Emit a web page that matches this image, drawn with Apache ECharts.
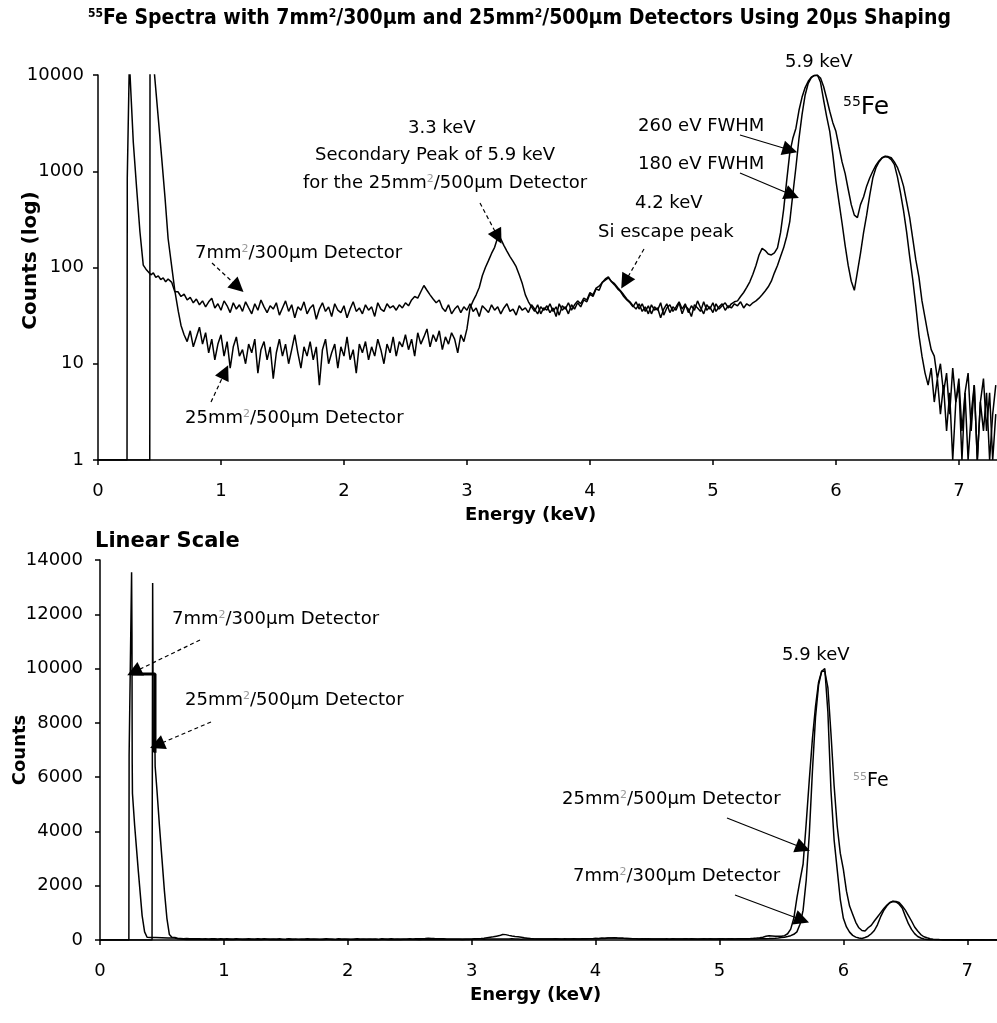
<!DOCTYPE html>
<html>
<head>
    <meta charset="UTF-8">
    <title>55Fe spectra</title>
    <script src="https://cdn.jsdelivr.net/npm/echarts@6/dist/echarts.min.js"></script>
</head>
<body style="margin:0;background:#fff;">
<div id="chart" style="width:997px;height:1023px;"></div>
<script type="text/javascript">
    // channel spacing of the spectra (keV)
    var channelStep = 0.025;

    // 7mm2/300um detector, counts per channel starting at 0.65 keV
    var counts7 = [
        56, 50, 53, 46, 49, 43, 47, 41, 45, 39, 44, 48, 38, 42, 36, 45, 40, 34, 43, 37,
        41, 35, 44, 38, 33, 42, 36, 46, 39, 34, 40, 37, 43, 32, 38, 45, 35, 41, 30, 39,
        36, 44, 33, 38, 41, 29, 37, 43, 35, 39, 31, 42, 36, 34, 40, 30, 37, 44, 35, 38,
        33, 41, 36, 39, 31, 43, 37, 35, 42, 38, 40, 36, 41, 38, 43, 40, 46, 50, 48, 56,
        65, 58, 52, 47, 43, 46, 38, 35, 41, 33, 37, 40, 34, 39, 36, 42, 35, 38, 31, 40,
        37, 34, 41, 36, 39, 33, 38, 42, 35, 37, 32, 40, 36, 38, 34, 41, 37, 33, 39, 36,
        40, 34, 38, 31, 42, 36, 39, 33, 41, 37, 43, 39, 46, 44, 53, 50, 60, 58, 70, 76,
        80, 71, 66, 60, 56, 50, 46, 43, 39, 44, 37, 42, 35, 40, 33, 39, 36, 43, 32, 38,
        41, 35, 39, 44, 37, 42, 34, 40, 36, 45, 38, 33, 41, 37, 43, 35, 39, 42, 36, 40,
        38, 42,
        40, 44, 38, 42, 40, 43, 45, 48, 52, 57, 63, 72, 88, 105, 130, 160, 210, 300, 580, 1100,
        2200, 3900, 6200, 8200, 9400, 9900, 10000, 8400, 5500, 3700, 2600, 1500, 800, 480, 290, 170, 105, 72, 58, 90,
        140, 230, 350, 560, 850, 1080, 1250, 1370, 1420, 1400, 1320, 1180, 880, 600, 390, 235, 130, 75, 40, 20,
        12, 8, 6, 9, 4, 7, 3, 6, 2, 5, 0, 4, 7, 2, 5, 0, 3, 6, 0, 4,
        2, 5, 0, 3, 6
    ];

    // 25mm2/500um detector, counts per channel starting at 0.70 keV
    var counts25 = [
        20, 17, 22, 15, 19, 24, 16, 21, 13, 18, 11, 16, 20, 12, 17, 9, 15, 19, 12, 14,
        10, 16, 13, 18, 8, 14, 17, 11, 15, 7, 13, 18, 12, 16, 10, 14, 20, 13, 9, 15,
        12, 17, 11, 15, 6, 14, 18, 10, 13, 16, 9, 15, 12, 19, 11, 14, 8, 16, 13, 17,
        11, 15, 12, 18, 14, 10, 16, 13, 19, 12, 17, 15, 20, 14, 18, 12, 21, 16, 19, 23,
        15, 20, 17, 22, 14, 19, 16, 21, 18, 13, 20, 17, 23, 38, 45, 52, 62, 82, 100, 118,
        140, 162, 205, 198, 170, 148, 130, 116, 102, 84, 68, 52, 44, 39, 35, 41, 33, 38, 36, 42,
        35, 39, 32, 40, 37, 43, 36, 41, 45, 42, 48, 46, 55, 52, 61, 64, 70, 74, 78, 72,
        68, 62, 57, 52, 47, 44, 40, 37, 42, 35, 39, 33, 41, 36, 38, 30, 37, 42, 34, 39,
        36, 43, 33, 40, 37, 31, 41, 38, 35, 44, 36, 39, 34, 42, 37, 40, 43, 38, 42, 44,
        45, 50, 55, 62, 71, 85, 105, 135, 158, 150, 138, 135, 142, 160, 230, 400, 800, 1550, 2200, 2800,
        4300, 5900, 7400, 8600, 9500, 9900, 9900, 9300, 7600, 5700, 4200, 3200, 2600, 1800, 1250, 950, 650, 450, 350, 330,
        450, 540, 700, 850, 1000, 1150, 1280, 1380, 1430, 1420, 1380, 1250, 1100, 900, 700, 480, 330, 200, 120, 80,
        45, 30, 20, 14, 12, 7, 10, 5, 8, 3, 9, 4, 6, 0, 5, 8, 2, 6, 0, 4,
        7, 2, 5, 0, 3
    ];

    // noise-edge spikes below 0.7 keV as [keV, counts], log panel
    var logLow7 = [[0, 0], [0.236, 0], [0.238, 850], [0.255, 14000], [0.27, 14000], [0.287, 2000],
        [0.314, 670], [0.341, 235], [0.368, 106], [0.39, 96], [0.41, 90], [0.43, 84], [0.45, 88],
        [0.47, 79], [0.49, 82], [0.51, 75], [0.53, 78], [0.55, 71], [0.57, 76], [0.6, 70], [0.625, 56]];
    var logLow25 = [[0, 0], [0.421, 0], [0.423, 14000], [0.45, 14000], [0.49, 3570], [0.518, 1370],
        [0.545, 530], [0.57, 200], [0.605, 90], [0.626, 56], [0.653, 35], [0.675, 25]];

    // same region as plotted in the linear panel
    var linLow7 = [[0, 0], [0.233, 0], [0.235, 6800], [0.255, 13550], [0.258, 11200], [0.26, 6500],
        [0.262, 5400], [0.28, 4200], [0.31, 2500], [0.34, 900], [0.36, 300], [0.38, 100], [0.41, 90],
        [0.45, 88], [0.5, 80], [0.55, 71], [0.6, 70], [0.625, 56]];
    var linLow25 = [[0, 0], [0.42, 0], [0.425, 13150], [0.43, 7000], [0.444, 6900], [0.445, 6400],
        [0.46, 5500], [0.48, 4200], [0.5, 3000], [0.52, 1800], [0.54, 800], [0.56, 200], [0.58, 100],
        [0.605, 90], [0.626, 56], [0.653, 35], [0.675, 25]];
    var linPlateau = [[0.258, 9800], [0.444, 9800], [0.444, 6900]];

    var logTicks = [1, 10, 100, 1000, 10000];
    var energyTicks = [0, 1, 2, 3, 4, 5, 6, 7];

    function channels(start, counts) {
        return counts.map(function (c, i) {
            return [Math.round((start + i * channelStep) * 1000) / 1000, c];
        });
    }

    function floorAtOne(p) {
        return [p[0], Math.max(p[1], 1)];
    }

    var spec7 = channels(0.65, counts7);
    var spec25 = channels(0.70, counts25);

    var chart = echarts.init(document.getElementById('chart'));

    var font = 'DejaVu Sans';
    var supGrey = {fontSize: 11, fontFamily: font, fill: '#9a9a9a', verticalAlign: 'top'};
    var richText = {s: supGrey};

    function note(text, left, top, size, extra) {
        var style = {text: text, fill: '#000', fontFamily: font, fontSize: size, rich: richText};
        if (extra) {
            for (var k in extra) style[k] = extra[k];
        }
        return {type: 'text', left: left, top: top, silent: true, style: style};
    }

    function arrow(x1, y1, x2, y2, dashed) {
        return [{x: x1, y: y1, lineStyle: {type: dashed ? [4, 3] : 'solid'}}, {x: x2, y: y2}];
    }

    function spectrum(name, idx, data, marks) {
        var s = {
            name: name,
            type: 'line',
            xAxisIndex: idx,
            yAxisIndex: idx,
            data: data,
            showSymbol: false,
            symbol: 'none',
            silent: true,
            clip: true,
            lineStyle: {color: '#000', width: 1.5},
            emphasis: {disabled: true}
        };
        if (marks) {
            s.markLine = {
                silent: true,
                symbol: ['none', 'triangle'],
                symbolSize: 15,
                label: {show: false},
                lineStyle: {color: '#000', width: 1.2},
                itemStyle: {color: '#000'},
                emphasis: {disabled: true},
                data: marks
            };
        }
        return s;
    }

    function xAxisOf(idx, max) {
        return {
            gridIndex: idx, type: 'value', min: 0, max: max, interval: 1,
            axisLine: {lineStyle: {color: '#000', width: 1.5}},
            axisTick: {length: 5, lineStyle: {color: '#000', width: 1.5}},
            axisLabel: {
                margin: 22, color: '#000', fontFamily: font, fontSize: 18, showMaxLabel: false,
                formatter: function (v) { return energyTicks.indexOf(v) >= 0 ? String(v) : ''; }
            },
            splitLine: {show: false}
        };
    }

    var titleRich = {
        t: {fontFamily: 'DejaVu Sans Condensed', fontWeight: 'bold', fontSize: 21, fill: '#000'},
        u: {fontFamily: 'DejaVu Sans Condensed', fontWeight: 'bold', fontSize: 12, fill: '#000', verticalAlign: 'top'}
    };

    var option = {
        animation: false,
        backgroundColor: '#fff',
        grid: [
            {left: 98, top: 75, right: 0, bottom: 563, containLabel: false, outerBoundsMode: 'none'},
            {left: 100, top: 560, right: 0, bottom: 83, containLabel: false, outerBoundsMode: 'none'}
        ],
        xAxis: [xAxisOf(0, 7.31), xAxisOf(1, 7.24)],
        yAxis: [
            {
                gridIndex: 0, type: 'log', logBase: 10, min: 1, max: 10000,
                name: 'Counts (log)', nameLocation: 'middle', nameRotate: 90, nameGap: 57, nameMoveOverlap: false,
                nameTextStyle: {fontFamily: font, fontWeight: 'bold', fontSize: 20, color: '#000', padding: [0, 0, 0, 14]},
                axisLine: {show: true, lineStyle: {color: '#000', width: 1.5}},
                axisTick: {show: true, length: 5, lineStyle: {color: '#000', width: 1.5}},
                axisLabel: {
                    margin: 14, color: '#000', fontFamily: font, fontSize: 18,
                    formatter: function (v) {
                        var r = Math.round(v);
                        return logTicks.indexOf(r) >= 0 ? String(r) : '';
                    }
                },
                splitLine: {show: false}
            },
            {
                gridIndex: 1, type: 'value', min: 0, max: 14000, interval: 2000,
                name: 'Counts', nameLocation: 'middle', nameRotate: 90, nameGap: 71, nameMoveOverlap: false,
                nameTextStyle: {fontFamily: font, fontWeight: 'bold', fontSize: 18, color: '#000'},
                axisLine: {show: true, lineStyle: {color: '#000', width: 1.5}},
                axisTick: {show: true, length: 5, lineStyle: {color: '#000', width: 1.5}},
                axisLabel: {
                    margin: 17, color: '#000', fontFamily: font, fontSize: 18,
                    formatter: function (v) { return String(v); }
                },
                splitLine: {show: false}
            }
        ],
        series: [
            spectrum('7mm2/300um', 0, logLow7.concat(spec7).map(floorAtOne), [
                arrow(212, 263, 238, 287, true),
                arrow(211, 402, 225, 372, true),
                arrow(480, 203, 498, 237, true),
                arrow(644, 249, 625, 282, true),
                arrow(740, 135, 790, 150, false),
                arrow(740, 173, 792, 195, false)
            ]),
            spectrum('25mm2/500um', 0, logLow25.concat(spec25).map(floorAtOne)),
            spectrum('7mm2/300um', 1, linLow7.concat(spec7), [
                arrow(200, 640, 134, 672, true),
                arrow(211, 722, 157, 745, true),
                arrow(727, 818, 803, 848, false),
                arrow(735, 895, 802, 920, false)
            ]),
            spectrum('25mm2/500um', 1, linLow25.concat(spec25)),
            {
                type: 'line', xAxisIndex: 1, yAxisIndex: 1, data: linPlateau,
                showSymbol: false, symbol: 'none', silent: true,
                lineStyle: {color: '#000', width: 3}, emphasis: {disabled: true}
            }
        ],
        graphic: [
            {
                type: 'text', left: 88, top: 8, silent: true,
                style: {
                    text: '{u|55}{t|Fe Spectra with 7mm}{u|2}{t|/300µm and 25mm}{u|2}{t|/500µm Detectors Using 20µs Shaping}',
                    rich: titleRich
                }
            },
            // top panel notes
            note('7mm{s|2}/300µm Detector', 195, 244, 18),
            note('25mm{s|2}/500µm Detector', 185, 409, 18),
            note('3.3 keV', 408, 119, 18),
            note('Secondary Peak of 5.9 keV', 315, 146, 18),
            note('for the 25mm{s|2}/500µm Detector', 303, 174, 18),
            note('4.2 keV', 635, 194, 18),
            note('Si escape peak', 598, 223, 18),
            note('260 eV FWHM', 638, 117, 18),
            note('180 eV FWHM', 638, 155, 18),
            note('5.9 keV', 785, 53, 18),
            note('{b|55}Fe', 843, 95, 25, {rich: {b: {fontSize: 14, fontFamily: font, fill: '#000', verticalAlign: 'top'}}}),
            note('Energy (keV)', 465, 506, 18, {fontWeight: 'bold'}),
            // bottom panel notes
            note('Linear Scale', 95, 531, 21, {fontWeight: 'bold'}),
            note('7mm{s|2}/300µm Detector', 172, 610, 18),
            note('25mm{s|2}/500µm Detector', 185, 691, 18),
            note('5.9 keV', 782, 646, 18),
            note('{s|55}Fe', 853, 772, 19),
            note('25mm{s|2}/500µm Detector', 562, 790, 18),
            note('7mm{s|2}/300µm Detector', 573, 867, 18),
            note('Energy (keV)', 470, 986, 18, {fontWeight: 'bold'})
        ]
    };

    chart.setOption(option);
</script>
</body>
</html>
